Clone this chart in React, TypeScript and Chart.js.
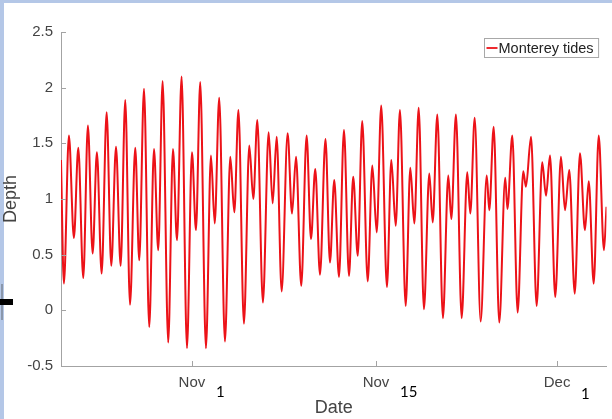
import { useEffect, useRef } from "react";
import { Chart, registerables } from "chart.js";

Chart.register(...registerables);

// Time in days relative to Nov 1 (0 = Nov 1) and tide depth at each high / low turning point
const DAYS = [
  -10.76, -10.52, -10.11, -9.7, -9.34, -8.93, -8.55, -8.16, -7.81, -7.42,
  -7.01, -6.63, -6.24, -5.86, -5.48, -5.09, -4.66, -4.33, -3.94, -3.51,
  -3.12, -2.77, -2.41, -1.95, -1.56, -1.23, -0.85, -0.41, 0.0, 0.33,
  0.68, 1.15, 1.56, 1.87, 2.24, 2.71, 3.15, 3.48, 3.82, 4.27,
  4.71, 5.04, 5.37, 5.83, 6.3, 6.63, 6.96, 7.37, 7.86, 8.22,
  8.55, 8.98, 9.42, 9.78, 10.13, 10.52, 10.97, 11.34, 11.69, 12.08,
  12.49, 12.9, 13.25, 13.62, 13.99, 14.44, 14.82, 15.18, 15.55, 16.02,
  16.38, 16.74, 17.09, 17.56, 17.94, 18.27, 18.63, 19.06, 19.5, 19.78,
  20.16, 20.62, 21.06, 21.31, 21.69, 22.16, 22.62, 22.87, 23.23, 23.72,
  24.22, 24.43, 24.79, 25.25, 25.74, 25.92, 26.32, 26.76, 27.22, 27.44,
  27.86, 28.32, 28.78, 29.09, 29.42, 29.85, 30.32, 30.65, 31.0, 31.45,
  31.88, 32.29, 32.6, 33.01, 33.42, 33.85, 34.06,
];

const DEPTH = [
  1.35, 0.24, 1.57, 0.65, 1.46, 0.29, 1.66, 0.51, 1.42, 0.33,
  1.78, 0.4, 1.47, 0.4, 1.89, 0.05, 1.46, 0.45, 1.99, -0.15,
  1.45, 0.54, 2.06, -0.29, 1.45, 0.63, 2.1, -0.34, 1.42, 0.72,
  2.05, -0.34, 1.39, 0.78, 1.91, -0.28, 1.38, 0.88, 1.8, -0.12,
  1.48, 1.0, 1.71, 0.07, 1.6, 0.96, 1.56, 0.17, 1.59, 0.87,
  1.38, 0.22, 1.57, 0.64, 1.27, 0.32, 1.54, 0.43, 1.17, 0.3,
  1.62, 0.31, 1.2, 0.49, 1.7, 0.26, 1.3, 0.7, 1.84, 0.21,
  1.35, 0.76, 1.8, 0.04, 1.28, 0.78, 1.82, 0.01, 1.23, 0.79,
  1.76, -0.07, 1.21, 0.82, 1.76, -0.07, 1.24, 0.87, 1.73, -0.1,
  1.21, 0.9, 1.65, -0.11, 1.19, 0.91, 1.57, -0.02, 1.25, 1.11,
  1.56, 0.04, 1.33, 1.03, 1.39, 0.12, 1.38, 0.9, 1.26, 0.15,
  1.41, 0.72, 1.16, 0.24, 1.57, 0.54, 0.93,
];

const SERIES_LABEL = "Monterey tides";
const X_TICK_VALUES = [0, 15.12, 30];
const X_TICK_LABELS = ["Nov", "Nov", "Dec"];
const DAY_NOTES = ["1", "15", "1"];
const X_MIN = -10.76;
const X_MAX = 34.06;
const Y_MIN = -0.5;
const Y_MAX = 2.5;
const Y_STEP = 0.5;
const X_TITLE = "Date";
const Y_TITLE = "Depth";

const LINE_COLOR = "rgb(236,18,24)";
const AXIS_COLOR = "#a3a3a3";
const TEXT_COLOR = "#444444";
const FONT = "'Liberation Sans', Arial, Helvetica, sans-serif";

const overlayPlugin = {
  id: "overlay",
  afterDraw(chart: any) {
    const { ctx, chartArea: a, scales } = chart;
    const x = scales.x;
    const y = scales.y;
    ctx.save();
    // inward tick marks (MATLAB style)
    ctx.strokeStyle = AXIS_COLOR;
    ctx.lineWidth = 1;
    ctx.beginPath();
    x.ticks.forEach((t: any) => {
      const px = Math.round(x.getPixelForValue(t.value)) + 0.5;
      ctx.moveTo(px, a.bottom);
      ctx.lineTo(px, a.bottom - 5);
    });
    y.ticks.forEach((t: any) => {
      const py = Math.round(y.getPixelForValue(t.value)) + 0.5;
      ctx.moveTo(a.left, py);
      ctx.lineTo(a.left + 5, py);
    });
    ctx.stroke();

    // hand-written day numbers next to the month ticks
    ctx.fillStyle = "#000";
    ctx.font = "15px Lato, 'Open Sans', sans-serif";
    ctx.textAlign = "left";
    ctx.textBaseline = "alphabetic";
    X_TICK_VALUES.forEach((v, i) => {
      const px = x.getPixelForValue(v);
      const dy = i === X_TICK_VALUES.length - 1 ? 33 : 31;
      ctx.fillText(DAY_NOTES[i], px + 24, a.bottom + dy);
    });

    // legend box
    ctx.font = `14.5px ${FONT}`;
    const tw = ctx.measureText(SERIES_LABEL).width;
    const boxW = tw + 19;
    const boxH = 19;
    const bx = Math.round(a.right - 8 - boxW) + 0.5;
    const by = Math.round(a.top + 6) + 0.5;
    ctx.fillStyle = "#fff";
    ctx.fillRect(bx, by, boxW, boxH);
    ctx.strokeStyle = "#a8a8a8";
    ctx.lineWidth = 1;
    ctx.strokeRect(bx, by, boxW, boxH);
    ctx.strokeStyle = LINE_COLOR;
    ctx.lineWidth = 1.8;
    ctx.beginPath();
    ctx.moveTo(bx + 2, by + boxH / 2);
    ctx.lineTo(bx + 13, by + boxH / 2);
    ctx.stroke();
    ctx.fillStyle = "#222";
    ctx.textBaseline = "middle";
    ctx.fillText(SERIES_LABEL, bx + 14, by + boxH / 2 + 0.5);
    ctx.restore();
  },
};

export default function App() {
  const ref = useRef<HTMLCanvasElement | null>(null);

  useEffect(() => {
    if (!ref.current) return;
    const data = DAYS.map((d, i) => ({ x: d, y: DEPTH[i] }));
    const chart = new Chart(ref.current, {
      type: "line",
      data: {
        datasets: [
          {
            label: SERIES_LABEL,
            data,
            borderColor: LINE_COLOR,
            backgroundColor: LINE_COLOR,
            borderWidth: 2,
            pointRadius: 0,
            fill: false,
            cubicInterpolationMode: "monotone",
          },
        ],
      },
      options: {
        animation: false,
        responsive: false,
        events: [],
        layout: { padding: { top: 32, right: 5.5, bottom: 0, left: 0 } },
        plugins: {
          legend: { display: false },
          tooltip: { enabled: false },
        },
        scales: {
          x: {
            type: "linear",
            min: X_MIN,
            max: X_MAX,
            afterFit: (s: any) => {
              s.height = 53;
            },
            afterBuildTicks: (s: any) => {
              s.ticks = X_TICK_VALUES.map((v) => ({ value: v }));
            },
            grid: { display: false, drawTicks: false },
            border: { display: true, color: AXIS_COLOR, width: 1 },
            ticks: {
              padding: 8,
              color: TEXT_COLOR,
              font: { family: FONT, size: 15 },
              maxRotation: 0,
              autoSkip: false,
              callback: (_v: any, i: number) => X_TICK_LABELS[i],
            },
            title: {
              display: true,
              text: X_TITLE,
              color: TEXT_COLOR,
              font: { family: FONT, size: 18 },
              padding: { top: 0, bottom: 0 },
            },
          },
          y: {
            type: "linear",
            min: Y_MIN,
            max: Y_MAX,
            afterFit: (s: any) => {
              s.width = 61;
            },
            grid: { display: false, drawTicks: false },
            border: { display: true, color: AXIS_COLOR, width: 1 },
            ticks: {
              stepSize: Y_STEP,
              padding: 8,
              color: TEXT_COLOR,
              font: { family: FONT, size: 15 },
              callback: (v: any) => String(Number(Number(v).toFixed(2))),
            },
            title: {
              display: true,
              text: Y_TITLE,
              color: TEXT_COLOR,
              font: { family: FONT, size: 18 },
              padding: { top: 0, bottom: 0 },
            },
          },
        },
      },
      plugins: [overlayPlugin],
    });
    return () => chart.destroy();
  }, []);

  return (
    <div
      style={{
        position: "absolute",
        left: 0,
        top: 0,
        width: 612,
        height: 419,
        background: "#ffffff",
        overflow: "hidden",
      }}
    >
      <div style={{ position: "absolute", left: 0, top: 0, width: 612, height: 3, background: "#b4c7e7" }} />
      <div style={{ position: "absolute", left: 0, top: 0, width: 4, height: 419, background: "#b4c7e7" }} />
      <div style={{ position: "absolute", left: 1, top: 284, width: 1.5, height: 36, background: "#8a97ab" }} />
      <div style={{ position: "absolute", left: 0, top: 299, width: 13, height: 6, background: "#000" }} />
      <canvas
        ref={ref}
        width={612}
        height={419}
        style={{ position: "absolute", left: 0, top: 0, width: 612, height: 419 }}
      />
    </div>
  );
}
